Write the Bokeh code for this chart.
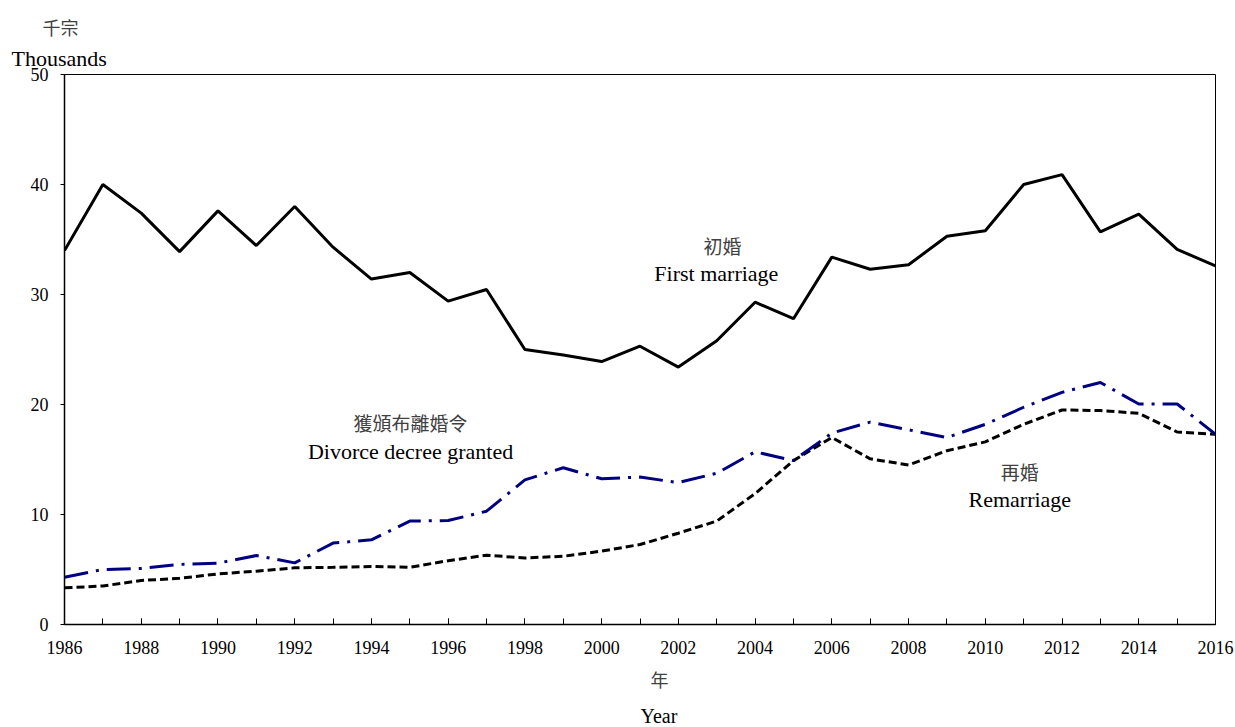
from bokeh.plotting import figure
from bokeh.models import Range1d, SingleIntervalTicker, Label, Title
from bokeh.embed import file_html
from bokeh.resources import INLINE

years = list(range(1986, 2017))
first_marriage = [34.0, 40.0, 37.4, 33.9, 37.6, 34.45, 38.0, 34.3, 31.4, 32.0,
                  29.4, 30.45, 25.0, 24.5, 23.9, 25.3, 23.4, 25.8, 29.3, 27.8,
                  33.4, 32.3, 32.7, 35.3, 35.8, 40.0, 40.9, 35.7, 37.3, 34.1, 32.6]
divorce = [4.3, 5.0, 5.1, 5.46, 5.58, 6.27, 5.6, 7.4, 7.7, 9.4,
           9.45, 10.3, 13.15, 14.25, 13.25, 13.4, 12.9, 13.75, 15.7, 14.9,
           17.4, 18.4, 17.7, 17.0, 18.2, 19.75, 21.1, 22.0, 20.05, 20.05, 17.3]
remarriage = [3.33, 3.5, 4.0, 4.2, 4.6, 4.85, 5.15, 5.2, 5.27, 5.2,
              5.8, 6.3, 6.05, 6.2, 6.67, 7.27, 8.3, 9.4, 11.9, 14.9,
              17.0, 15.06, 14.5, 15.8, 16.6, 18.2, 19.5, 19.45, 19.2, 17.5, 17.3]

SERIF = "Liberation Serif"
CJK = "Noto Sans CJK TC"
CJK_STACK = "'Liberation Serif', 'Noto Sans CJK TC'"

p = figure(width=1235, height=727, output_backend="svg", toolbar_location=None,
           x_range=Range1d(1986, 2016), y_range=Range1d(0, 50),
           min_border_left=64, min_border_right=20, min_border_top=74,
           min_border_bottom=103)
p.background_fill_color = "white"
p.border_fill_color = "white"
p.outline_line_color = "black"
p.outline_line_width = 1
p.xgrid.visible = False
p.ygrid.visible = False

p.line(years, first_marriage, line_color="black", line_width=3)
p.line(years, remarriage, line_color="black", line_width=3, line_dash="8 4")
p.line(years, divorce, line_color="#000080", line_width=3, line_dash="24 8 3 8")

xa = p.xaxis[0]
xa.ticker = SingleIntervalTicker(interval=2, num_minor_ticks=2)
xa.major_tick_in = 6
xa.major_tick_out = 0
xa.minor_tick_in = 6
xa.minor_tick_out = 0
xa.major_label_standoff = 16
xa.major_label_text_font = SERIF
xa.major_label_text_font_size = "18px"
xa.major_label_text_color = "black"
xa.axis_line_width = 1.5
xa.axis_line_color = "black"
xa.major_tick_line_color = "black"
xa.minor_tick_line_color = "black"

ya = p.yaxis[0]
ya.ticker = SingleIntervalTicker(interval=10, num_minor_ticks=0)
ya.major_tick_in = 0
ya.major_tick_out = 4
ya.minor_tick_in = 0
ya.minor_tick_out = 0
ya.major_label_standoff = 12
ya.major_label_text_font = SERIF
ya.major_label_text_font_size = "18px"
ya.major_label_text_color = "black"
ya.axis_line_width = 1.5
ya.axis_line_color = "black"
ya.major_tick_line_color = "black"

# Unit label above the frame (later-added titles sit further from the frame)
p.add_layout(Title(text="Thousands", text_font=SERIF, text_font_size="22px",
                   text_font_style="normal", text_color="black",
                   align="left", offset=-53, standoff=8), "above")
p.add_layout(Title(text="千宗", text_font=CJK_STACK, text_font_size="18px",
                   text_font_style="normal", text_color="#404040",
                   align="left", offset=-22, standoff=2), "above")

# Axis title below the x axis
p.add_layout(Title(text="年", text_font=CJK_STACK, text_font_size="18px",
                   text_font_style="normal", text_color="#404040",
                   align="left", offset=586, standoff=24,
                   vertical_align="bottom"), "below")
p.add_layout(Title(text="Year", text_font=SERIF, text_font_size="20px",
                   text_font_style="normal", text_color="black",
                   align="left", offset=576, standoff=0), "below")


def add_label(x, y, text, font, size, color="black"):
    p.add_layout(Label(x=x, y=y, text=text, text_font=font, text_font_size=size,
                       text_color=color, text_align="center",
                       text_baseline="middle"))


add_label(2003.15, 34.45, "初婚", CJK, "19px", "#404040")
add_label(2002.99, 31.9, "First marriage", SERIF, "22px")
add_label(1995.02, 18.4, "獲頒布離婚令", CJK, "19px", "#404040")
add_label(1995.02, 15.7, "Divorce decree granted", SERIF, "22px")
add_label(2010.9, 13.9, "再婚", CJK, "19px", "#404040")
add_label(2010.9, 11.4, "Remarriage", SERIF, "22px")

open("out.html", "w").write(file_html(p, INLINE))
